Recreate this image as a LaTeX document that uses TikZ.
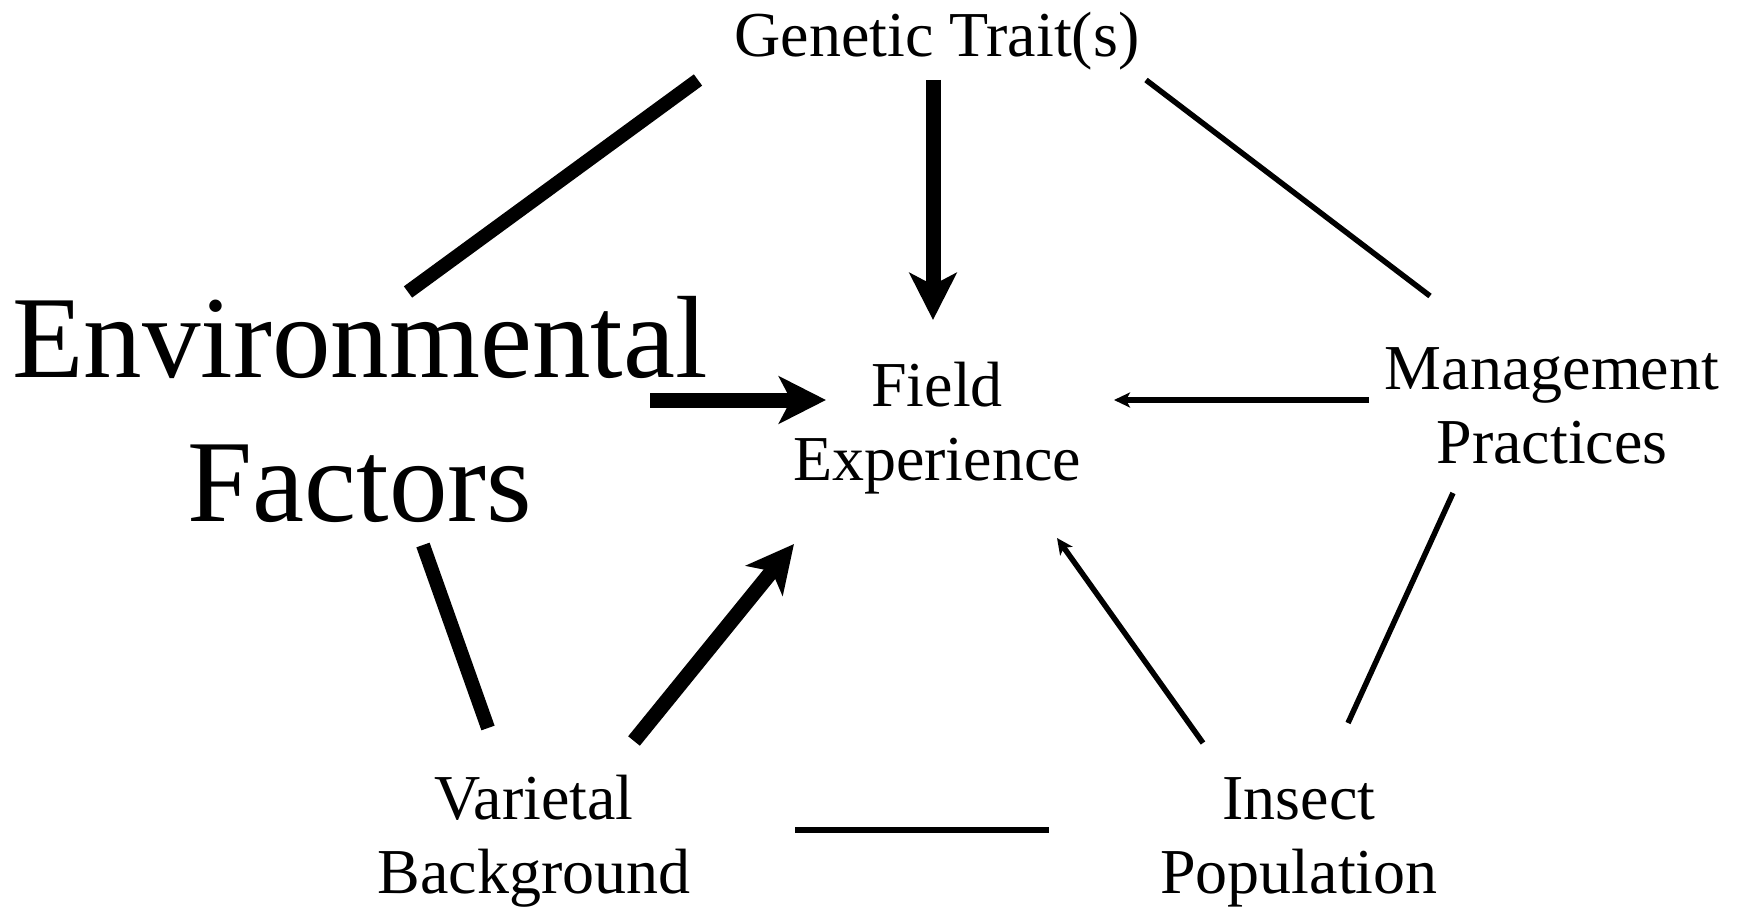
\documentclass[tikz,border=0pt]{standalone}
\usepackage{fontspec}
\setmainfont{Liberation Serif}
\usetikzlibrary{arrows.meta}
\tikzset{
  lbl/.style={inner sep=0pt, align=center, anchor=base, font=\fontsize{64}{74}\selectfont},
  biglbl/.style={inner sep=0pt, align=center, anchor=base, font=\fontsize{117}{144}\selectfont},
  thickln/.style={line width=14pt},
  thinln/.style={line width=5.5pt},
  bigarrow/.style={line width=15pt, -{Stealth[length=47pt, width=47pt, inset=12pt]}},
  smallarrow/.style={line width=5.5pt, -{Stealth[length=16pt, width=15pt, inset=4pt]}}
}
\begin{document}
\begin{tikzpicture}[x=1pt, y=-1pt]
\useasboundingbox (0,0) rectangle (1738,909);
% texts (base anchor = baseline of the last line)
\node[lbl] (gen) at (937,57) {Genetic Trait(s)};
\node[biglbl] (env) at (360,521) {Environmental\\Factors};
\node[lbl] (field) at (937,480) {Field\\Experience};
\node[lbl] (mgmt) at (1552,463) {Management\\Practices};
\node[lbl] (var) at (534,893) {Varietal\\Background};
\node[lbl] (ins) at (1299,893) {Insect\\Population};
% connector end points
\coordinate (genL) at (698,80);
\coordinate (envT) at (408,292);
\coordinate (genB) at (933,80);
\coordinate (fieldT) at (933,320);
\coordinate (envR) at (650,400);
\coordinate (fieldL) at (826,400);
\coordinate (mgmtL) at (1369,400);
\coordinate (fieldR) at (1114,400);
\coordinate (insT) at (1203,743);
\coordinate (fieldBR) at (1057,538);
\coordinate (varT) at (634,741);
\coordinate (fieldBL) at (794,544);
\coordinate (envB) at (423,545);
\coordinate (varTL) at (488,728);
\coordinate (varR) at (795,830);
\coordinate (insL) at (1049,830);
\coordinate (insTR) at (1348,723);
\coordinate (mgmtB) at (1453,493);
\coordinate (genR) at (1146,80);
\coordinate (mgmtT) at (1430,296);
% connectors
\draw[thickln] (genL) -- (envT);
\draw[bigarrow] (genB) -- (fieldT);
\draw[bigarrow] (envR) -- (fieldL);
\draw[smallarrow] (mgmtL) -- (fieldR);
\draw[smallarrow] (insT) -- (fieldBR);
\draw[bigarrow] (varT) -- (fieldBL);
\draw[thickln] (envB) -- (varTL);
\draw[thinln] (varR) -- (insL);
\draw[thinln] (insTR) -- (mgmtB);
\draw[thinln] (genR) -- (mgmtT);
\end{tikzpicture}
\end{document}
